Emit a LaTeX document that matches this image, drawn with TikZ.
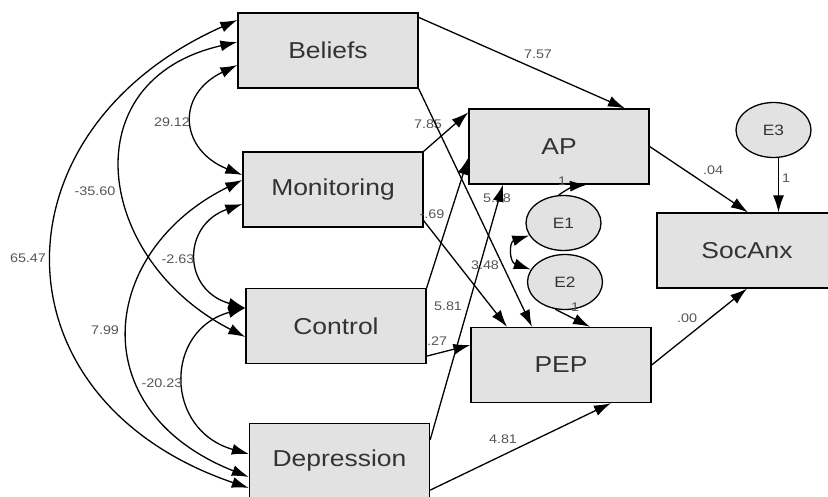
\documentclass[tikz,border=0pt]{standalone}
\usepackage{fontspec}
\setmainfont{Liberation Sans}[FakeStretch=1.15]
\usetikzlibrary{arrows.meta,shapes.geometric}
\definecolor{boxgray}{HTML}{E2E2E2}
\definecolor{inkgray}{HTML}{333333}
\definecolor{labgray}{HTML}{555555}
\begin{document}
\begin{tikzpicture}[x=1pt,y=-1pt,line width=1.3pt]
    \tikzstyle{var}=[rectangle,draw,fill=boxgray,text=inkgray,minimum width=180pt,minimum height=75pt,inner sep=0pt,font=\fontsize{23}{23}\selectfont]
    \tikzstyle{err}=[ellipse,draw,fill=boxgray,text=inkgray,minimum width=75pt,minimum height=55pt,inner sep=0pt,font=\fontsize{15}{15}\selectfont]
    \tikzstyle{lab}=[text=labgray,inner sep=1pt,font=\fontsize{12.5}{12.5}\selectfont]
    \tikzstyle{reg}=[draw,-{Latex[length=17pt,width=11pt]}]
    \tikzstyle{cov}=[draw,{Latex[length=17pt,width=11pt]}-{Latex[length=17pt,width=11pt]}]
    \useasboundingbox (0,0) rectangle (828,497);

      % observed variables
      \node (Beliefs) at (328, 50.5) [var] {Beliefs};
      \node (Monitoring) at (333, 189.5) [var] {Monitoring};
      \node (Control) at (336, 326) [var] {Control};
      \node (Depression) at (339.5, 461) [var] {Depression};
      \node (AP) at (559, 146.5) [var] {AP};
      \node (PEP) at (561, 365) [var] {PEP};
      \node (SocAnx) at (747, 250.5) [var] {SocAnx};

      % error terms
      \node (E1) at (563.5, 223) [err] {E1};
      \node (E2) at (565, 282) [err] {E2};
      \node (E3) at (773.5, 130) [err] {E3};

      % covariances
      \path[cov] ([yshift=30.5pt]Beliefs.west) .. controls (-10,130) and (-10,400) .. ([yshift=-27pt]Depression.west);
      \path[cov] ([yshift=8.5pt]Beliefs.west) .. controls (70,80) and (95,260) .. ([yshift=-11pt]Control.west);
      \path[cov] ([yshift=-14.5pt]Beliefs.west) .. controls (175,95) and (180,150) .. ([yshift=14.5pt]Monitoring.west);
      \path[cov] ([yshift=9.5pt]Monitoring.west) .. controls (100,250) and (80,410) .. ([yshift=-16pt]Depression.west);
      \path[cov] ([yshift=-14.5pt]Monitoring.west) .. controls (182,225) and (182,290) .. ([yshift=18pt]Control.west);
      \path[cov] ([yshift=18pt]Control.west) .. controls (164,330) and (164,430) .. ([yshift=7pt]Depression.west);
      \path[cov] (E1.200) .. controls (509,242) and (509,262) .. (E2.160);

      % labels (drawn before the paths that cross them)
      \node (l1) at (172, 122) [lab] {29.12};
      \node (l2) at (95, 191) [lab] {-35.60};
      \node (l3) at (28, 258) [lab] {65.47};
      \node (l4) at (178, 259) [lab] {-2.63};
      \node (l5) at (105, 330) [lab] {7.99};
      \node (l6) at (162, 383) [lab] {-20.23};
      \node (l7) at (538, 54) [lab] {7.57};
      \node (l8) at (428, 124) [lab] {7.85};
      \node (l9) at (432, 214) [lab] {-.69};
      \node (l10) at (497, 198) [lab] {5.18};
      \node (l11) at (485, 265) [lab] {3.48};
      \node (l12) at (448, 306) [lab] {5.81};
      \node (l13) at (437, 341) [lab] {.27};
      \node (l14) at (503, 439) [lab] {4.81};
      \node (l15) at (713, 170) [lab] {.04};
      \node (l16) at (687, 318) [lab] {.00};
      \node (l17) at (786, 178) [lab] {1};
      \node (l18) at (562, 181) [lab] {1};
      \node (l19) at (575, 307) [lab] {1};

      % regressions
      \path[reg] ([yshift=-5pt]Beliefs.north east) -- ([xshift=66pt]AP.north);
      \path[reg] (Beliefs.south east) -- ([xshift=-29pt]PEP.north);
      \path[reg] (Monitoring.north east) -- ([yshift=-4pt]AP.north west);
      \path[reg] ([yshift=7pt]Monitoring.south east) -- ([xshift=-54pt]PEP.north);
      \path[reg] (Control.north east) -- ([yshift=27pt]AP.south west);
      \path[reg] ([yshift=8pt]Control.south east) -- ([yshift=20pt]PEP.west);
      \path[reg] ([yshift=-17pt]Depression.north east) -- ([xshift=-56pt]AP.south);
      \path[reg] ([yshift=9pt]Depression.south east) -- ([xshift=50pt]PEP.south);
      \path[reg] (AP.east) -- ([xshift=1pt]SocAnx.north);
      \path[reg] (PEP.east) -- (SocAnx.south);
      \path[reg] ([xshift=5pt]E3.south) -- ([xshift=5pt]E3.south |- SocAnx.north);
      \path[reg] (E1.100) to[bend left=15] ([xshift=28pt]AP.south);
      \path[reg] (E2.250) -- ([xshift=29pt]PEP.north);
  \end{tikzpicture}
\end{document}
